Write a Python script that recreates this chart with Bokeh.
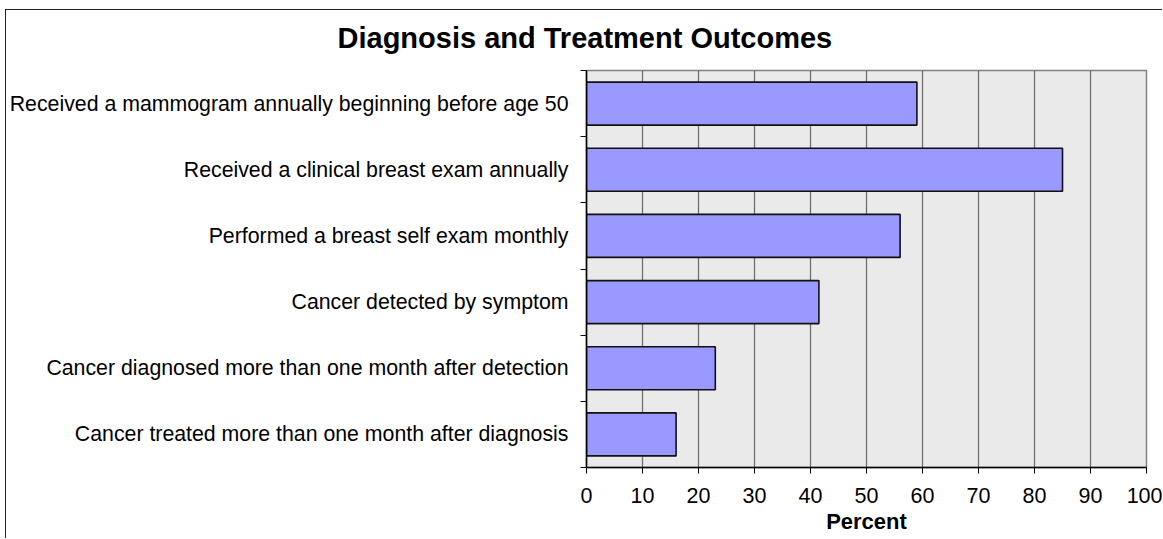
from bokeh.plotting import figure
from bokeh.models import FixedTicker, Range1d
from bokeh.embed import file_html
from bokeh.resources import INLINE

title_text = "Diagnosis and Treatment Outcomes"
categories = [
    "Received a mammogram annually beginning before age 50",
    "Received a clinical breast exam annually",
    "Performed a breast self exam monthly",
    "Cancer detected by symptom",
    "Cancer diagnosed more than one month after detection",
    "Cancer treated more than one month after diagnosis",
]
percent = [59, 85, 56, 41.5, 23, 16]
x_ticks = [0, 10, 20, 30, 40, 50, 60, 70, 80, 90, 100]
x_label = "Percent"

n = len(categories)
ypos = [n - i - 0.5 for i in range(n)]
FONT = "Liberation Sans"

p = figure(
    width=1162, height=538,
    x_range=Range1d(0, 100), y_range=Range1d(0, n),
    output_backend="svg", toolbar_location=None,
    min_border_left=586, min_border_right=16,
    min_border_top=70, min_border_bottom=71,
    background_fill_color="#EAEAEA", border_fill_alpha=0,
)
# outer chart border (top and left edges visible in the crop)
p.styles = {
    "background": ("linear-gradient(#222, #222) 5px 9px / 100% 1px no-repeat, "
                   "linear-gradient(#222, #222) 5px 9px / 1px 100% no-repeat, #fff"),
}

p.hbar(y=ypos, left=0, right=percent, height=0.65,
       fill_color="#9999FF", line_color="#111111", line_width=1.6)

# title
p.title.text = title_text
p.title.text_font = FONT
p.title.text_font_size = "29px"
p.title.text_font_style = "bold"
p.title.text_color = "black"
p.title.align = "left"
p.title.offset = -249
p.title.standoff = 34

# outline
p.outline_line_color = "#808080"
p.outline_line_width = 1.5

# grids
p.ygrid.grid_line_color = None
p.xgrid.ticker = FixedTicker(ticks=x_ticks)
p.xgrid.grid_line_color = "#707070"
p.xgrid.grid_line_width = 1.3

# x axis
xa = p.xaxis[0]
xa.ticker = FixedTicker(ticks=x_ticks)
xa.axis_line_color = "black"
xa.axis_line_width = 1.5
xa.major_tick_out = 6
xa.major_tick_in = 0
xa.major_tick_line_color = "black"
xa.minor_tick_line_color = None
xa.major_label_text_font = FONT
xa.major_label_text_font_size = "21.5px"
xa.major_label_text_color = "black"
xa.major_label_standoff = 14
xa.axis_label = x_label
xa.axis_label_text_font = FONT
xa.axis_label_text_font_size = "22px"
xa.axis_label_text_font_style = "bold"
xa.axis_label_text_color = "black"
xa.axis_label_standoff = 3

# y axis: labels at bar centres, small ticks at category boundaries
ya = p.yaxis[0]
ya.ticker = FixedTicker(ticks=ypos, minor_ticks=list(range(n + 1)))
ya.major_label_overrides = {y: c for y, c in zip(ypos, categories)}
ya.major_tick_line_color = None
ya.major_tick_out = 0
ya.major_tick_in = 0
ya.minor_tick_line_color = "black"
ya.minor_tick_out = 6
ya.minor_tick_in = 0
ya.axis_line_color = "black"
ya.axis_line_width = 1.5
ya.major_label_text_font = FONT
ya.major_label_text_font_size = "21.3px"
ya.major_label_text_color = "black"
ya.major_label_standoff = 12

open("out.html", "w").write(file_html(p, INLINE))
